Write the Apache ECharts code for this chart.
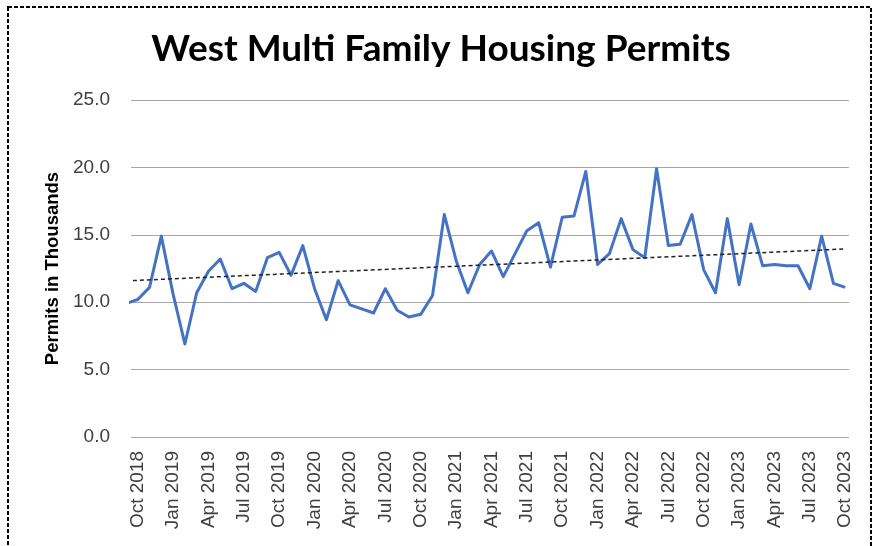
<!DOCTYPE html>
<html>
<head>
<meta charset="utf-8">
<script src="https://cdn.jsdelivr.net/npm/echarts@6/dist/echarts.min.js"></script>
<style>
  html, body { margin: 0; padding: 0; background: #fff; }
  #chart { width: 882px; height: 546px; }
</style>
</head>
<body>
<div id="chart"></div>
<script>
// Monthly categories (first one sits just left of the plotted axis range)
var months = [
  'Sep 2018','Oct 2018','Nov 2018','Dec 2018',
  'Jan 2019','Feb 2019','Mar 2019','Apr 2019','May 2019','Jun 2019','Jul 2019','Aug 2019','Sep 2019','Oct 2019','Nov 2019','Dec 2019',
  'Jan 2020','Feb 2020','Mar 2020','Apr 2020','May 2020','Jun 2020','Jul 2020','Aug 2020','Sep 2020','Oct 2020','Nov 2020','Dec 2020',
  'Jan 2021','Feb 2021','Mar 2021','Apr 2021','May 2021','Jun 2021','Jul 2021','Aug 2021','Sep 2021','Oct 2021','Nov 2021','Dec 2021',
  'Jan 2022','Feb 2022','Mar 2022','Apr 2022','May 2022','Jun 2022','Jul 2022','Aug 2022','Sep 2022','Oct 2022','Nov 2022','Dec 2022',
  'Jan 2023','Feb 2023','Mar 2023','Apr 2023','May 2023','Jun 2023','Jul 2023','Aug 2023','Sep 2023','Oct 2023'
];
// Permits in thousands
var permits = [
  9.9, 10.2, 11.1, 14.9,
  10.6, 6.9, 10.7, 12.3, 13.2, 11.0, 11.4, 10.8, 13.3, 13.7, 12.0, 14.2,
  11.0, 8.7, 11.6, 9.8, 9.5, 9.2, 11.0, 9.4, 8.9, 9.1, 10.5, 16.5,
  13.1, 10.7, 12.8, 13.8, 11.9, 13.6, 15.3, 15.9, 12.6, 16.3, 16.4, 19.7,
  12.8, 13.6, 16.2, 13.9, 13.3, 19.9, 14.2, 14.3, 16.5, 12.4, 10.7, 16.2,
  11.3, 15.8, 12.7, 12.8, 12.7, 12.7, 11.0, 14.9, 11.4, 11.1
];
// Linear trendline (start / end month and values)
var trendMonths = ['Sep 2018', 'Oct 2023'];
var trendValues = [11.58, 13.95];

var tickLabels = [
  'Oct 2018','Jan 2019','Apr 2019','Jul 2019','Oct 2019','Jan 2020','Apr 2020','Jul 2020','Oct 2020',
  'Jan 2021','Apr 2021','Jul 2021','Oct 2021','Jan 2022','Apr 2022','Jul 2022','Oct 2022',
  'Jan 2023','Apr 2023','Jul 2023','Oct 2023'
];
var yTicks = [0, 5, 10, 15, 20, 25];

// month index: Oct 2018 = 0
var baseIdx = months.indexOf('Oct 2018');
var pts = permits.map(function (v, i) { return [i - baseIdx, v]; });
var tickPos = tickLabels.map(function (t) { return months.indexOf(t) - baseIdx; });
var trend = trendMonths.map(function (m, i) { return [months.indexOf(m) - baseIdx, trendValues[i]]; });

var chart = echarts.init(document.getElementById('chart'), null, { renderer: 'canvas' });
chart.setOption({
  backgroundColor: '#fff',
  animation: false,
  title: {
    text: 'West Multi Family Housing Permits',
    left: 'center',
    top: 26,
    textStyle: { fontFamily: 'Lato', fontWeight: 'bold', fontSize: 37, color: '#000' }
  },
  graphic: [{
    type: 'rect', silent: true,
    shape: { x: 8, y: 7, width: 863, height: 600 },
    style: { fill: null, stroke: '#000', lineWidth: 2, lineDash: [4, 2] }
  }],
  grid: { left: 131, right: 33, top: 100, bottom: 109, containLabel: false },
  xAxis: {
    type: 'value',
    min: -0.57, max: 60.32,
    splitLine: { show: false },
    axisTick: { show: false },
    axisLine: { show: false },
    axisLabel: {
      customValues: tickPos,
      rotate: 90,
      margin: 14,
      fontFamily: 'Liberation Sans',
      fontSize: 19,
      color: '#404040',
      formatter: function (v) {
        var k = tickPos.indexOf(Math.round(v));
        return k >= 0 ? tickLabels[k] : '';
      }
    }
  },
  yAxis: {
    type: 'value',
    min: yTicks[0], max: yTicks[yTicks.length - 1], interval: 5,
    name: 'Permits in Thousands',
    nameLocation: 'middle',
    nameGap: 68,
    nameTextStyle: { fontFamily: 'Liberation Sans', fontWeight: 'bold', fontSize: 18.5, color: '#000' },
    axisLine: { show: false },
    axisTick: { show: false },
    splitLine: { lineStyle: { color: '#a6a6a6', width: 1 } },
    axisLabel: {
      margin: 21,
      fontFamily: 'Liberation Sans',
      fontSize: 19,
      color: '#404040',
      formatter: function (v) { return v.toFixed(1); }
    }
  },
  series: [
    {
      type: 'line', data: pts, symbol: 'none', clip: true,
      lineStyle: { color: '#4472C4', width: 3, join: 'round' },
      z: 3
    },
    {
      type: 'line', data: trend, symbol: 'none', clip: true,
      lineStyle: { color: '#222', width: 1.5, type: [4, 3] },
      z: 4
    }
  ]
});
</script>
</body>
</html>
